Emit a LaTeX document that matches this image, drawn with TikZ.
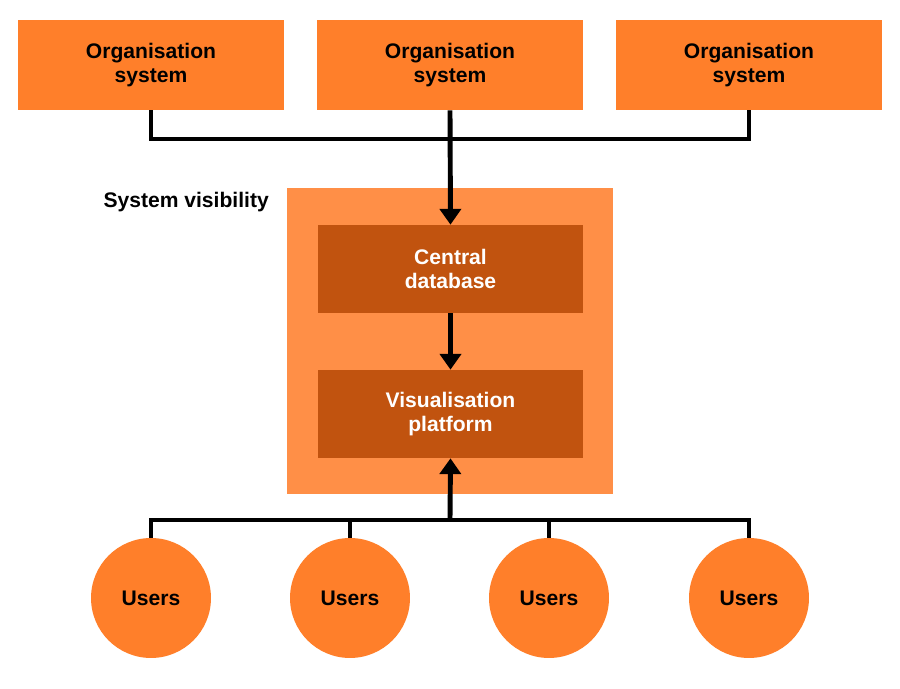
\documentclass[tikz,border=0pt]{standalone}
\usepackage{fontspec}
\setmainfont{Liberation Sans}
\usetikzlibrary{positioning,arrows.meta}
\definecolor{orgorange}{HTML}{FF7F2A}
\definecolor{visbg}{HTML}{FF8F47}
\definecolor{darkorange}{HTML}{C1530F}
\tikzset{
  txt/.style={font=\fontsize{12}{14}\selectfont\bfseries, align=center},
  orgbox/.style={txt, fill=orgorange, minimum width=5.32cm, minimum height=1.8cm},
  innerbox/.style={txt, text=white, fill=darkorange, minimum width=5.3cm, minimum height=1.76cm},
  user/.style={txt, circle, fill=orgorange, minimum size=2.4cm},
  link/.style={line width=2.8pt},
  arr/.style={link, -{Triangle[length=9pt,width=12pt]}}
}
\begin{document}
\begin{tikzpicture}[x=0.02cm,y=-0.02cm]
\useasboundingbox (0,0) rectangle (900,689);

% Organisation systems
\foreach \x/\n in {151/orgA, 450/orgB, 749/orgC}
  \node[orgbox] (\n) at (\x,65) {Organisation\\system};

% System visibility
\fill[visbg] (287,188) rectangle (613,494);
\node[txt, anchor=east] (vislabel) at (275,202) {System visibility};
\node[innerbox] (db) at (450.5,269) {Central\\database};
\node[innerbox] (viz) at (450.5,414) {Visualisation\\platform};

% Users
\foreach \x/\n in {151/userA, 350/userB, 549/userC, 749/userD}
  \node[user] (\n) at (\x,598) {Users};

% Connectors
\coordinate (topbus) at (450,139);
\draw[link] (orgA.south) |- (topbus) -| (orgC.south);
\draw[arr] (orgB.south) -- (db.north);
\draw[arr] (db.south) -- (viz.north);
\coordinate (botbus) at (450,520);
\draw[link] (userA.north) |- (botbus) -| (userD.north);
\draw[link] (userB.north) -- (userB.north |- botbus);
\draw[link] (userC.north) -- (userC.north |- botbus);
\draw[arr] (botbus) -- (viz.south);
\end{tikzpicture}
\end{document}
